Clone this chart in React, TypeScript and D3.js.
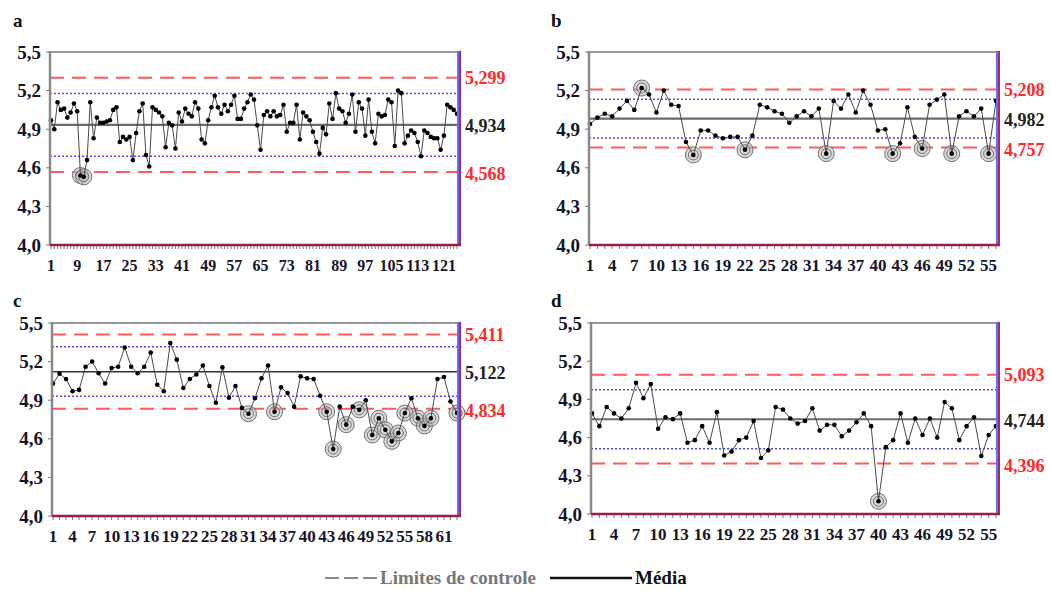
import React from 'react';
import * as d3 from 'd3';

const panelLetters = ['a', 'b', 'c', 'd'];

const seriesA = [
  4.97, 4.9, 5.11, 5.05, 5.06, 4.99, 5.03, 5.1, 5.04, 4.54, 4.53, 4.66, 5.11, 4.83, 4.99, 4.95,
  4.95, 4.96, 4.97, 5.05, 5.07, 4.8, 4.84, 4.82, 4.84, 4.66, 4.87, 5.04, 5.1, 4.7, 4.61, 5.07,
  5.05, 5.03, 5.0, 4.76, 4.95, 4.93, 4.75, 5.03, 4.96, 5.06, 5.02, 5.0, 5.11, 5.06, 4.82, 4.79,
  4.97, 5.07, 5.16, 5.07, 5.02, 5.09, 5.04, 5.09, 5.16, 4.98, 4.98, 5.06, 5.11, 5.17, 5.13, 4.93,
  4.74, 5.01, 5.04, 5.0, 5.04, 5.0, 5.01, 5.09, 4.88, 4.95, 4.95, 5.09, 4.82, 5.03, 5.0, 4.97,
  4.88, 4.8, 4.71, 4.91, 4.86, 5.1, 4.98, 5.18, 5.06, 5.04, 4.95, 5.02, 5.17, 4.88, 5.11, 5.06,
  4.85, 5.13, 4.88, 4.79, 5.02, 5.0, 5.01, 5.13, 5.11, 4.77, 5.2, 5.18, 4.79, 4.85, 4.89, 4.87,
  4.8, 4.69, 4.89, 4.87, 4.84, 4.83, 4.83, 4.74, 4.85, 5.09, 5.07, 5.05, 5.02,
];

const seriesB = [
  4.94, 4.99, 5.02, 5.0, 5.06, 5.12, 5.05, 5.22, 5.17, 5.03, 5.2, 5.09, 5.08, 4.8, 4.7, 4.89,
  4.89, 4.85, 4.83, 4.84, 4.84, 4.74, 4.85, 5.09, 5.07, 5.04, 5.02, 4.95, 5.0, 5.04, 5.0, 5.06,
  4.71, 5.12, 5.06, 5.17, 5.03, 5.2, 5.09, 4.89, 4.9, 4.71, 4.79, 5.07, 4.84, 4.75, 5.09, 5.13,
  5.17, 4.71, 5.0, 5.04, 5.0, 5.06, 4.71, 5.12,
];

const seriesC = [
  5.03, 5.105, 5.065, 4.97, 4.98, 5.16, 5.2, 5.11, 5.03, 5.15, 5.16, 5.31, 5.16, 5.11, 5.16, 5.27,
  5.02, 4.97, 5.345, 5.215, 4.995, 5.065, 5.1, 5.17, 5.01, 4.88, 5.155, 4.92, 5.01, 4.84, 4.795, 4.915,
  5.07, 5.17, 4.81, 5.0, 4.955, 4.85, 5.085, 5.07, 5.065, 4.935, 4.81, 4.52, 4.85, 4.71, 4.85, 4.825,
  4.9, 4.63, 4.76, 4.67, 4.58, 4.645, 4.8, 4.915, 4.76, 4.7, 4.76, 5.065, 5.08, 4.89, 4.8,
];

const seriesD = [
  4.79, 4.69, 4.84, 4.79, 4.75, 4.83, 5.03, 4.91, 5.02, 4.67, 4.76, 4.745, 4.79, 4.56, 4.58, 4.69,
  4.56, 4.8, 4.46, 4.49, 4.58, 4.6, 4.73, 4.44, 4.5, 4.84, 4.82, 4.75, 4.71, 4.73, 4.83, 4.655,
  4.7, 4.7, 4.61, 4.655, 4.72, 4.79, 4.69, 4.1, 4.525, 4.58, 4.79, 4.56, 4.75, 4.62, 4.75, 4.6,
  4.88, 4.83, 4.58, 4.69, 4.76, 4.455, 4.62, 4.69,
];

const uclValues = [5.299, 5.208, 5.411, 5.093];
const meanValues = [4.934, 4.982, 5.122, 4.744];
const lclValues = [4.568, 4.757, 4.834, 4.396];
const xLabelSteps = [8, 3, 3, 3];
const yTicks = [4.0, 4.3, 4.6, 4.9, 5.2, 5.5];
const legendLabels = ['Limites de controle', 'Média'];

const allSeries = [seriesA, seriesB, seriesC, seriesD];

// plot boxes [left, right, top, bottom]
const boxes = [
  [50, 459, 52, 245],
  [589, 998, 52, 245],
  [52, 459, 323, 516],
  [591, 998, 323, 514],
];

const FONT = '"Liberation Serif", "Times New Roman", serif';
const comma = (v: number, digits: number) => v.toFixed(digits).replace('.', ',');

function Panel({ idx }: { idx: number }) {
  const data = allSeries[idx];
  const [left, right, top, bottom] = boxes[idx];
  const ucl = uclValues[idx];
  const mean = meanValues[idx];
  const lcl = lclValues[idx];
  const upper2 = mean + ((ucl - mean) * 2) / 3;
  const lower2 = mean - ((mean - lcl) * 2) / 3;

  const x = d3.scaleLinear().domain([1, data.length]).range([left + 1, right - 2]);
  const y = d3.scaleLinear().domain([4.0, 5.5]).range([bottom, top]);

  const line = d3
    .line<number>()
    .x((_, i) => x(i + 1))
    .y((d) => y(d));

  const flagged = data
    .map((v, i) => ({ v, i }))
    .filter((p) => p.v > ucl || p.v < lcl);

  const step = xLabelSteps[idx];
  const xLabels = data.map((_, i) => i + 1).filter((n) => (n - 1) % step === 0);

  const hLine = (v: number, stroke: string, width: number, dash?: string) => (
    <line x1={left} x2={right} y1={y(v)} y2={y(v)} stroke={stroke} strokeWidth={width} strokeDasharray={dash} />
  );

  return (
    <g>
      <text x={idx % 2 === 0 ? 13 : 551} y={idx < 2 ? 27 : 307} fontFamily={FONT} fontWeight="bold" fontSize={19} fill="#111">
        {panelLetters[idx]}
      </text>

      {/* frame */}
      <rect x={left} y={top} width={right - left} height={bottom - top} fill="#fff" />
      <line x1={left} x2={right} y1={top} y2={top} stroke="#999" strokeWidth={2} />

      {/* control lines */}
      {hLine(ucl, '#ff5a5a', 2, '14,8')}
      {hLine(lcl, '#ff5a5a', 2, '14,8')}
      {hLine(upper2, '#4a4aff', 1.5, '2,2')}
      {hLine(lower2, '#4a4aff', 1.5, '2,2')}
      {hLine(mean, idx === 2 ? '#333' : '#6a6a6a', idx === 2 ? 1.5 : 2.2)}

      {/* flagged points */}
      {flagged.map((p) => (
        <g key={p.i}>
          <circle cx={x(p.i + 1)} cy={y(p.v)} r={8} fill="#c0c0c0" fillOpacity={0.6} stroke="#707070" strokeWidth={1} />
          <circle cx={x(p.i + 1)} cy={y(p.v)} r={5} fill="none" stroke="#707070" strokeWidth={1} />
        </g>
      ))}

      {/* series */}
      <path d={line(data) || ''} fill="none" stroke="#4a4a4a" strokeWidth={1} />
      {data.map((v, i) => (
        <circle key={i} cx={x(i + 1)} cy={y(v)} r={2.3} fill="#000" />
      ))}

      {/* axes */}
      <line x1={left} x2={left} y1={top - 1} y2={bottom} stroke="#8a8a8a" strokeWidth={2.5} />
      <line x1={right - 1} x2={right - 1} y1={top - 1} y2={bottom} stroke="#6b6bff" strokeWidth={2} />
      <line x1={right + 1} x2={right + 1} y1={top - 1} y2={bottom + 1} stroke="#a0305a" strokeWidth={2} />
      <line x1={left} x2={right + 2} y1={bottom} y2={bottom} stroke="#9a1e45" strokeWidth={2.5} />
      {data.map((_, i) => (
        <line key={i} x1={x(i + 1)} x2={x(i + 1)} y1={bottom + 1} y2={bottom + 4} stroke="#555" strokeWidth={0.8} />
      ))}
      {yTicks.map((t) => (
        <g key={t}>
          <line x1={left - 4} x2={left} y1={y(t)} y2={y(t)} stroke="#777" strokeWidth={1} />
          <text x={left - 9} y={y(t)} dy="0.35em" textAnchor="end" fontFamily={FONT} fontWeight="bold" fontSize={19} fill="#15152a">
            {comma(t, 1)}
          </text>
        </g>
      ))}
      {xLabels.map((n) => (
        <text key={n} x={x(n)} y={bottom + 26} textAnchor="middle" fontFamily={FONT} fontWeight="bold" fontSize={idx === 0 ? 16 : 17} fill="#15152a">
          {n}
        </text>
      ))}

      {/* limit values */}
      <text x={right + 6} y={y(ucl)} dy="0.35em" fontFamily={FONT} fontWeight="bold" fontSize={18} fill="#ff2a2a">
        {comma(ucl, 3)}
      </text>
      <text x={right + 6} y={y(mean) + 1} dy="0.35em" fontFamily={FONT} fontWeight="bold" fontSize={18} fill="#222">
        {comma(mean, 3)}
      </text>
      <text x={right + 6} y={y(lcl) + 2} dy="0.35em" fontFamily={FONT} fontWeight="bold" fontSize={18} fill="#ff2a2a">
        {comma(lcl, 3)}
      </text>
    </g>
  );
}

export default function App() {
  return (
    <svg width={1051} height={590} style={{ position: 'absolute', left: 0, top: 0, background: '#fff' }}>
      <rect x={0} y={0} width={1051} height={590} fill="#fff" />
      {[0, 1, 2, 3].map((i) => (
        <Panel key={i} idx={i} />
      ))}
      {/* legend */}
      <line x1={325} x2={377} y1={578} y2={578} stroke="#888" strokeWidth={2} strokeDasharray="14,5" />
      <text x={380} y={584} fontFamily={FONT} fontWeight="bold" fontSize={19} fill="#777">
        {legendLabels[0]}
      </text>
      <line x1={550} x2={632} y1={578} y2={578} stroke="#111" strokeWidth={2.5} />
      <text x={635} y={584} fontFamily={FONT} fontWeight="bold" fontSize={19} fill="#111">
        {legendLabels[1]}
      </text>
    </svg>
  );
}
